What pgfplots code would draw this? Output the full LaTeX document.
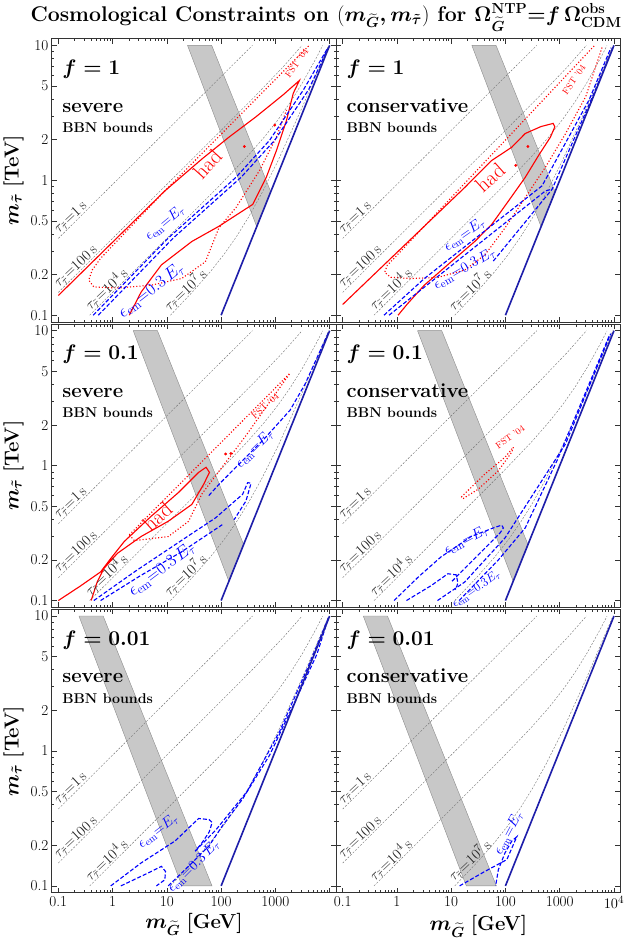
\documentclass[border=0pt]{standalone}
\usepackage{amsmath}
\usepackage{pgfplots}
\pgfplotsset{compat=1.18}
\usepackage{pgfplotstable}
\usepgfplotslibrary{groupplots}

\definecolor{bandgray}{RGB}{200,200,200}
\definecolor{diagblue}{RGB}{30,30,170}

\pgfplotsset{
  panel/.style={
    xmode=log, ymode=log,
    xmin=0.076, xmax=13200, ymin=0.089, ymax=11.2,
    scale only axis, width=281pt, height=280pt,
    xtick={0.1,1,10,100,1000,10000},
    minor xtick={0.2,0.3,0.4,0.5,0.6,0.7,0.8,0.9,2,3,4,5,6,7,8,9,20,30,40,50,60,70,80,90,200,300,400,500,600,700,800,900,2000,3000,4000,5000,6000,7000,8000,9000},
    ytick={0.1,0.2,0.5,1,2,5,10},
    minor ytick={0.3,0.4,0.6,0.7,0.8,0.9,3,4,6,7,8,9},
    tick align=inside,
    major tick length=5pt, minor tick length=2.5pt,
    tick style={black!80, line width=0.5pt},
    axis line style={black!80, line width=0.8pt},
    tick label style={font=\fontsize{15}{17}\selectfont},
    label style={font=\fontsize{20}{24}\selectfont},
  },
  taul/.style={black!55, line width=0.4pt, dash pattern=on 2pt off 1.5pt},
  hadline/.style={red, line width=1.1pt},
  fstline/.style={red, line width=1.1pt, dotted},
  emline/.style={blue, line width=1.1pt, dash pattern=on 4pt off 2pt},
  bandfill/.style={fill=bandgray, draw=black!45, line width=0.4pt},
  diagstyle/.style={diagblue, line width=1.6pt},
  reddots/.style={only marks, mark=*, red, mark size=1.2pt},
}
\tikzset{
  taulabel/.style={font=\fontsize{15}{17}\selectfont, text=black!85, rotate=43, anchor=south west, inner sep=0.5pt},
  emlabel/.style={text=blue, inner sep=0pt},
  flabel/.style={anchor=base west, inner sep=0pt, font=\fontsize{20}{24}\selectfont},
  blabel/.style={anchor=base west, inner sep=0pt, font=\fontsize{14}{16}\selectfont},
}

\begin{document}
% lifetime contours tau(m_G, m_stau)
\pgfplotstableread{
x y
0.1 0.371
378 10
}\tauA
\pgfplotstableread{
x y
0.1 0.1476
100 2.344
418 4.18
1382 6.91
2916 9.72
3100 10
}\tauB
\pgfplotstableread{
x y
0.378 0.1
1.914 0.1914
90 0.900
298 1.489
628 2.094
1129 2.823
1905 3.81
3190 5.32
5585 7.98
7430 9.97
}\tauC
\pgfplotstableread{
x y
11.64 0.1
29.8 0.149
62.8 0.2094
112.9 0.2823
190.5 0.381
319 0.532
558 0.798
1110 1.387
3163 3.515
8437 8.88
9545 10
}\tauD

\begin{tikzpicture}
\begin{groupplot}[group style={group size=2 by 3, horizontal sep=0pt, vertical sep=2pt}, panel]

% ---------- f = 1, severe
\nextgroupplot[xticklabels={}, yticklabels={0.1,0.2,0.5,1,2,5,10},
  ylabel={$\boldsymbol{m_{\tilde\tau}}$ \textbf{[TeV]}}]
\addplot[bandfill] coordinates {(24,10) (67,10) (822,0.822) (453,0.453) (24,10)};
\addplot[taul] table {\tauA};
\addplot[taul] table {\tauB};
\addplot[taul] table {\tauC};
\addplot[taul] table {\tauD};
\addplot[hadline] coordinates {(0.1,0.140) (9.18,0.834) (44.5,1.44) (140,2.09) (441,2.96) (1390,4.30) (2770,5.49) (2140,4.42) (1607,2.79) (1045,1.66) (679,1.05) (383,0.663) (91,0.456) (28.9,0.352) (7.94,0.236) (3.36,0.1486) (2.03,0.1)};
\addplot[fstline] coordinates {(4083,9.89) (9.18,0.834) (0.601,0.264) (0.42,0.216) (0.364,0.182) (0.451,0.162) (1.23,0.159) (5.16,0.167) (18.8,0.187) (51.3,0.249) (91,0.444) (187,0.626) (509,1.18) (1045,2.09) (1607,3.32)};
\addplot[reddots] coordinates {(267,1.78) (973,2.56)};
\addplot[emline] coordinates {(0.439,0.1) (10.6,0.373) (187,1.05) (783,1.98) (3290,4.68) (9000,9.4)};
\addplot[emline] coordinates {(0.545,0.1) (13.1,0.373) (232,1.05) (970,1.98) (4080,4.68) (9300,9.5)};
\addplot[diagstyle] coordinates {(100,0.1) (10000,10)};
\node[flabel] at (axis cs:0.1175,6.10) {$\boldsymbol{f = 1}$};
\node[flabel] at (axis cs:0.1175,3.19) {\bfseries severe};
\node[blabel] at (axis cs:0.1175,2.26) {\bfseries BBN bounds};
\node[taulabel] at (axis cs:0.11,0.385) {$\tau_{\tilde\tau}{=}1\,$s};
\node[taulabel] at (axis cs:0.11,0.153) {$\tau_{\tilde\tau}{=}100\,$s};
\node[taulabel] at (axis cs:0.42,0.103) {$\tau_{\tilde\tau}{=}10^4\,$s};
\node[taulabel] at (axis cs:12,0.102) {$\tau_{\tilde\tau}{=}10^7\,$s};
\node[text=red, rotate=48, font=\fontsize{21}{24}\selectfont] at (axis cs:56,1.32) {had};
\node[text=red, rotate=55, font=\fontsize{9}{10}\selectfont] at (axis cs:2470,7.4) {FST \textquoteright04};
\node[emlabel, rotate=40, font=\fontsize{14}{16}\selectfont] at (axis cs:9.2,0.483) {$\epsilon_{\mathrm{em}}{=}E_\tau$};
\node[emlabel, rotate=38, font=\fontsize{17}{19}\selectfont] at (axis cs:5.16,0.153) {$\epsilon_{\mathrm{em}}{=}0.3\,E_\tau$};

% ---------- f = 1, conservative
\nextgroupplot[xticklabels={}, yticklabels={}]
\addplot[bandfill] coordinates {(24,10) (67,10) (822,0.822) (453,0.453) (24,10)};
\addplot[taul] table {\tauA};
\addplot[taul] table {\tauB};
\addplot[taul] table {\tauC};
\addplot[taul] table {\tauD};
\addplot[hadline] coordinates {(0.1,0.12) (17.7,0.883) (55.6,1.40) (131,1.76) (231,2.22) (450,2.5) (757,2.64) (813,2.49) (675,2.09) (409,1.53) (231,1.05) (113,0.70) (55.6,0.47) (27.2,0.352) (10,0.249) (3.2,0.167) (1.57,0.1216) (1.05,0.1)};
\addplot[fstline] coordinates {(4300,9.9) (0.887,0.264) (0.667,0.235) (0.595,0.2075) (0.769,0.191) (1.81,0.187) (5.66,0.1905) (17.7,0.216) (41.8,0.28) (98.4,0.444) (231,0.744) (545,1.25) (1282,2.22) (3020,4.17) (6150,9.9)};
\addplot[reddots] coordinates {(260,1.78) (155,1.29)};
\addplot[emline] coordinates {(0.578,0.1) (3.2,0.187) (473,0.91) (3470,3.94) (8790,9.6)};
\addplot[emline] coordinates {(0.716,0.1) (545,0.834) (724,0.859)};
\addplot[emline] coordinates {(59.7,0.252) (724,0.859) (4020,4.17) (9500,9.6)};
\addplot[diagstyle] coordinates {(100,0.1) (10000,10)};
\node[flabel] at (axis cs:0.1175,6.10) {$\boldsymbol{f = 1}$};
\node[flabel] at (axis cs:0.1175,3.19) {\bfseries conservative};
\node[blabel] at (axis cs:0.1175,2.26) {\bfseries BBN bounds};
\node[taulabel] at (axis cs:0.11,0.385) {$\tau_{\tilde\tau}{=}1\,$s};
\node[taulabel] at (axis cs:0.11,0.153) {$\tau_{\tilde\tau}{=}100\,$s};
\node[taulabel] at (axis cs:0.42,0.103) {$\tau_{\tilde\tau}{=}10^4\,$s};
\node[taulabel] at (axis cs:12,0.102) {$\tau_{\tilde\tau}{=}10^7\,$s};
\node[text=red, rotate=42, font=\fontsize{21}{24}\selectfont] at (axis cs:52,1.05) {had};
\node[text=red, rotate=55, font=\fontsize{9}{10}\selectfont] at (axis cs:1830,5.56) {FST \textquoteright04};
\node[emlabel, rotate=35, font=\fontsize{14}{16}\selectfont] at (axis cs:17.7,0.395) {$\epsilon_{\mathrm{em}}{=}E_\tau$};
\node[emlabel, rotate=30, font=\fontsize{15}{17}\selectfont] at (axis cs:17.7,0.222) {$\epsilon_{\mathrm{em}}{=}0.3\,E_\tau$};

% ---------- f = 0.1, severe
\nextgroupplot[xticklabels={}, yticklabels={0.1,0.2,0.5,1,2,5,10},
  ylabel={$\boldsymbol{m_{\tilde\tau}}$ \textbf{[TeV]}}]
\addplot[bandfill] coordinates {(2.4,10) (6.7,10) (260,0.26) (139,0.139) (2.4,10)};
\addplot[taul] table {\tauA};
\addplot[taul] table {\tauB};
\addplot[taul] table {\tauC};
\addplot[taul] table {\tauD};
\addplot[hadline] coordinates {(0.1,0.1) (0.254,0.128) (0.601,0.163) (0.925,0.205) (1.64,0.274) (5.16,0.422) (16.3,0.631) (38.5,0.891) (52.8,0.972) (61,0.891) (47.8,0.729) (28.9,0.516) (10.6,0.387) (3.36,0.2985) (1.23,0.224) (0.693,0.173) (0.52,0.137) (0.402,0.1)};
\addplot[fstline] coordinates {(2.03,0.307) (1858,4.84) (287,1.67) (44.6,0.62) (25,0.386) (10.6,0.298) (2.52,0.278) (2.03,0.307)};
\addplot[reddots] coordinates {(121,1.22) (151,1.23)};
\addplot[emline] coordinates {(0.451,0.1) (2.52,0.163) (14.1,0.259) (78.9,0.41) (249,0.613) (309,0.748) (356,0.74) (287,0.547) (174,0.398)};
\addplot[emline] coordinates {(0.601,0.1) (3.36,0.154) (18.8,0.23) (105,0.365)};
\addplot[emline] coordinates {(59.3,0.6) (91,0.726) (187,0.972) (588,1.54) (1858,2.57) (3500,4.0) (9400,9.6)};
\addplot[diagstyle] coordinates {(100,0.1) (10000,10)};
\node[flabel] at (axis cs:0.1175,6.10) {$\boldsymbol{f = 0.1}$};
\node[flabel] at (axis cs:0.1175,3.19) {\bfseries severe};
\node[blabel] at (axis cs:0.1175,2.26) {\bfseries BBN bounds};
\node[taulabel] at (axis cs:0.11,0.385) {$\tau_{\tilde\tau}{=}1\,$s};
\node[taulabel] at (axis cs:0.11,0.153) {$\tau_{\tilde\tau}{=}100\,$s};
\node[taulabel] at (axis cs:0.42,0.103) {$\tau_{\tilde\tau}{=}10^4\,$s};
\node[taulabel] at (axis cs:12,0.102) {$\tau_{\tilde\tau}{=}10^7\,$s};
\node[text=red, rotate=42, font=\fontsize{21}{24}\selectfont] at (axis cs:6.7,0.42) {had};
\node[text=red, rotate=42, font=\fontsize{9}{10}\selectfont] at (axis cs:650,2.77) {FST \textquoteright04};
\node[emlabel, rotate=45, font=\fontsize{14}{16}\selectfont] at (axis cs:412,1.33) {$\epsilon_{\mathrm{em}}{=}E_\tau$};
\node[emlabel, rotate=37, font=\fontsize{17}{19}\selectfont] at (axis cs:8,0.17) {$\epsilon_{\mathrm{em}}{=}0.3\,E_\tau$};

% ---------- f = 0.1, conservative
\nextgroupplot[xticklabels={}, yticklabels={}]
\addplot[bandfill] coordinates {(2.4,10) (6.7,10) (260,0.26) (139,0.139) (2.4,10)};
\addplot[taul] table {\tauA};
\addplot[taul] table {\tauB};
\addplot[taul] table {\tauC};
\addplot[taul] table {\tauD};
\addplot[fstline] coordinates {(15.4,0.586) (41.8,0.866) (98.4,1.155) (140,1.37) (131,1.26) (74,0.917) (31.4,0.668) (16.5,0.569) (15.4,0.586)};
\addplot[emline] coordinates {(0.887,0.1) (2.5,0.15) (6.53,0.211) (23.6,0.299) (64.1,0.349) (85.3,0.362) (91.6,0.345) (80,0.318) (41.8,0.244) (17.7,0.173) (10,0.137)};
\addplot[emline] coordinates {(1.5,0.1) (4.27,0.129) (8.7,0.158) (12.4,0.155) (13.3,0.135) (12,0.12)};
\addplot[emline] coordinates {(5.6,0.1) (17.7,0.137) (98,0.291) (1282,1.45) (8700,9.5)};
\addplot[emline] coordinates {(14,0.1) (74,0.2) (231,0.345) (900,1.1) (8400,9.4)};
\addplot[diagstyle] coordinates {(100,0.1) (10000,10)};
\node[flabel] at (axis cs:0.1175,6.10) {$\boldsymbol{f = 0.1}$};
\node[flabel] at (axis cs:0.1175,3.19) {\bfseries conservative};
\node[blabel] at (axis cs:0.1175,2.26) {\bfseries BBN bounds};
\node[taulabel] at (axis cs:0.11,0.385) {$\tau_{\tilde\tau}{=}1\,$s};
\node[taulabel] at (axis cs:0.11,0.153) {$\tau_{\tilde\tau}{=}100\,$s};
\node[taulabel] at (axis cs:0.42,0.103) {$\tau_{\tilde\tau}{=}10^4\,$s};
\node[text=red, rotate=35, font=\fontsize{9}{10}\selectfont] at (axis cs:122,1.63) {FST \textquoteright04};
\node[emlabel, rotate=28, font=\fontsize{15}{17}\selectfont] at (axis cs:19.1,0.281) {$\epsilon_{\mathrm{em}}{=}E_\tau$};
\node[emlabel, rotate=35, font=\fontsize{13}{15}\selectfont] at (axis cs:29,0.122) {$\epsilon_{\mathrm{em}}{=}0.3E_\tau$};

% ---------- f = 0.01, severe
\nextgroupplot[yticklabels={0.1,0.2,0.5,1,2,5,10},
  xticklabels={0.1,1,10,100,1000,{}},
  ylabel={$\boldsymbol{m_{\tilde\tau}}$ \textbf{[TeV]}},
  xlabel={$\boldsymbol{m_{\widetilde G}}$ \textbf{[GeV]}}]
\addplot[bandfill] coordinates {(0.24,10) (0.67,10) (68,0.1) (19,0.1) (0.24,10)};
\addplot[taul] table {\tauA};
\addplot[taul] table {\tauB};
\addplot[taul] table {\tauC};
\addplot[taul] table {\tauD};
\addplot[emline] coordinates {(0.925,0.1) (3.36,0.148) (14.1,0.215) (38.6,0.316) (60,0.31) (68.5,0.295) (60,0.25) (44.5,0.209) (33.3,0.181)};
\addplot[emline] coordinates {(1.42,0.1) (3.88,0.121) (7.94,0.1396) (9.44,0.128) (9.18,0.111) (6.41,0.1)};
\addplot[emline] coordinates {(10.6,0.1) (25,0.1396) (59.3,0.197) (105,0.278) (249,0.441) (783,0.931) (2470,2.47) (5840,5.22) (9500,9.7)};
\addplot[emline] coordinates {(33.3,0.181) (80,0.26) (300,0.5) (1200,1.4) (4000,4.2) (9600,9.8)};
\addplot[diagstyle] coordinates {(100,0.1) (10000,10)};
\node[flabel] at (axis cs:0.1175,6.10) {$\boldsymbol{f = 0.01}$};
\node[flabel] at (axis cs:0.1175,3.19) {\bfseries severe};
\node[blabel] at (axis cs:0.1175,2.26) {\bfseries BBN bounds};
\node[taulabel] at (axis cs:0.11,0.385) {$\tau_{\tilde\tau}{=}1\,$s};
\node[taulabel] at (axis cs:0.11,0.153) {$\tau_{\tilde\tau}{=}100\,$s};
\node[taulabel] at (axis cs:0.42,0.103) {$\tau_{\tilde\tau}{=}10^4\,$s};
\node[emlabel, rotate=38, font=\fontsize{14}{16}\selectfont] at (axis cs:6.89,0.255) {$\epsilon_{\mathrm{em}}{=}E_\tau$};
\node[emlabel, rotate=45, font=\fontsize{14}{16}\selectfont] at (axis cs:31,0.14) {$\epsilon_{\mathrm{em}}{=}0.3\,E_\tau$};

% ---------- f = 0.01, conservative
\nextgroupplot[yticklabels={}, xticklabels={0.1,1,10,100,1000,$10^4$},
  xlabel={$\boldsymbol{m_{\widetilde G}}$ \textbf{[GeV]}}]
\addplot[bandfill] coordinates {(0.24,10) (0.67,10) (68,0.1) (19,0.1) (0.24,10)};
\addplot[taul] table {\tauA};
\addplot[taul] table {\tauB};
\addplot[taul] table {\tauC};
\addplot[taul] table {\tauD};
\addplot[emline] coordinates {(14.3,0.1) (41.8,0.128) (106,0.1566) (162,0.2314) (131,0.215) (98.4,0.176) (74,0.132) (66,0.1)};
\addplot[diagstyle] coordinates {(100,0.1) (10000,10)};
\node[flabel] at (axis cs:0.1175,6.10) {$\boldsymbol{f = 0.01}$};
\node[flabel] at (axis cs:0.1175,3.19) {\bfseries conservative};
\node[blabel] at (axis cs:0.1175,2.26) {\bfseries BBN bounds};
\node[taulabel] at (axis cs:0.11,0.385) {$\tau_{\tilde\tau}{=}1\,$s};
\node[taulabel] at (axis cs:0.11,0.153) {$\tau_{\tilde\tau}{=}100\,$s};
\node[taulabel] at (axis cs:0.42,0.103) {$\tau_{\tilde\tau}{=}10^4\,$s};
\node[taulabel] at (axis cs:12,0.102) {$\tau_{\tilde\tau}{=}10^7\,$s};
\node[emlabel, rotate=62, font=\fontsize{14}{16}\selectfont] at (axis cs:113,0.248) {$\epsilon_{\mathrm{em}}{=}E_\tau$};
\end{groupplot}
\node[anchor=south, font=\fontsize{21}{25}\selectfont\bfseries] at ([xshift=-10pt, yshift=4pt]group c1r1.north east)
  {Cosmological Constraints on $(\boldsymbol{m_{\widetilde G}, m_{\tilde\tau}})$ for $\boldsymbol{\Omega^{\mathbf{NTP}}_{\widetilde G}{=}f\,\Omega^{\mathbf{obs}}_{\mathbf{CDM}}}$};
\end{tikzpicture}
\end{document}
